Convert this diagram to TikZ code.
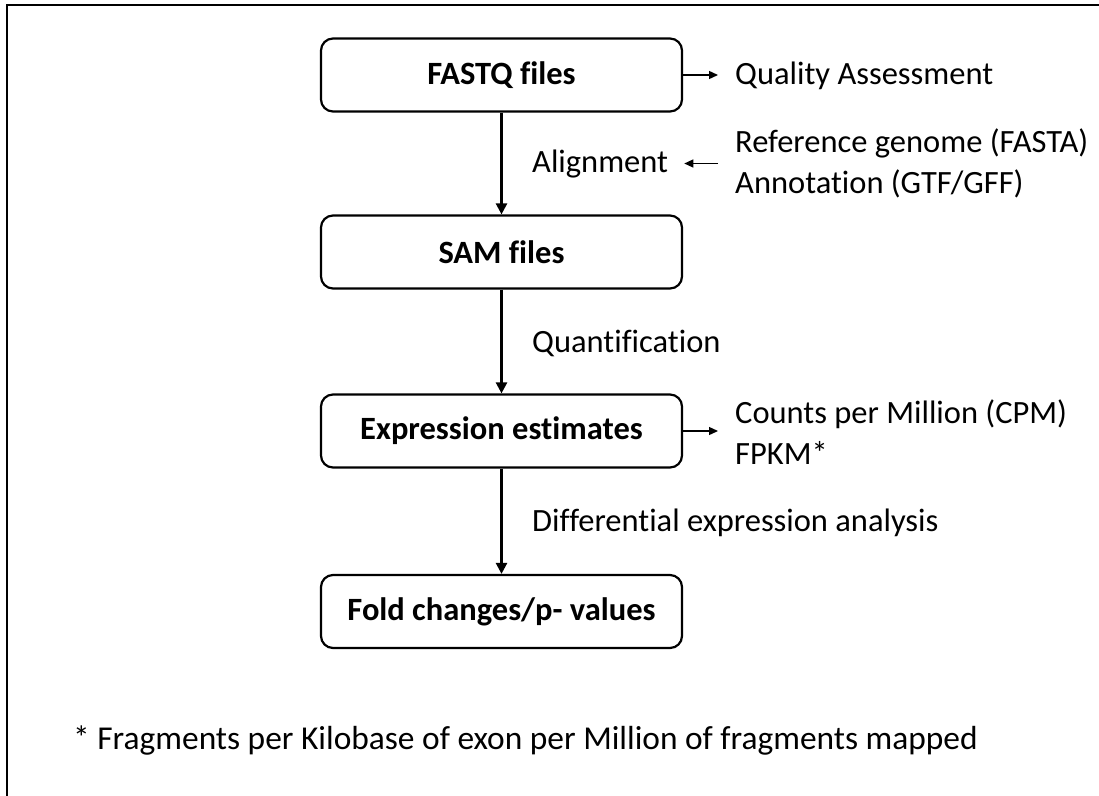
\documentclass[tikz,border=0pt]{standalone}
\usepackage{fontspec}
\setmainfont{Carlito}[Ligatures=NoCommon]
\usetikzlibrary{arrows.meta}
\begin{document}
\begin{tikzpicture}[x=1pt,y=-1pt,
  stage/.style={draw, line width=2.2pt, rounded corners=12pt,
    minimum width=361pt, minimum height=73pt, inner sep=0pt,
    font=\fontsize{32.5}{38}\selectfont\bfseries},
  lbl/.style={anchor=west, inner sep=0pt, align=left,
    font=\fontsize{32.5}{40.5}\selectfont},
  flow/.style={line width=2.4pt, -{Triangle[length=11pt,width=11pt]}},
  side/.style={line width=1.3pt, -{Triangle[length=9pt,width=8pt]}}]
\useasboundingbox (0,0) rectangle (1099,795);
% outer frame
\draw[line width=2.8pt] (7,796) -- (7,5) -- (1100,5);

% pipeline stages
\node[stage] (fastq) at (501.5,75)  {FASTQ files};
\node[stage] (sam)   at (501.5,252) {SAM files};
\node[stage] (expr)  at (501.5,431) {Expression estimates};
\node[stage] (fold)  at (501.5,611.5) {Fold changes/p- values};

% step labels
\node[lbl] (align) at (532,164) {Alignment};
\node[lbl] (quant) at (532,343) {Quantification};
\node[lbl] (diff)  at (532,523) {Differential expression analysis};

% side inputs and outputs
\node[lbl] (qa)   at (735,76)    {Quality Assessment};
\node[lbl] (refs) at (735,163.5) {Reference genome (FASTA)\\Annotation (GTF/GFF)};
\node[lbl] (cpm)  at (735,432)   {Counts per Million (CPM)\\FPKM*};

% footnote
\node[lbl, font=\fontsize{33.4}{40}\selectfont] (note) at (73,741)
  {* Fragments per Kilobase of exon per Million of fragments mapped};

% main flow
\draw[flow] (fastq) -- (sam);
\draw[flow] (sam) -- (expr);
\draw[flow] (expr) -- (fold);

% side arrows
\draw[side, shorten >=17pt] (fastq.east) -- (fastq.east -| qa.west);
\draw[side, shorten <=17pt, shorten >=16pt] (refs.west) -- (refs.west -| align.east);
\draw[side, shorten >=17pt] (expr.east) -- (expr.east -| cpm.west);
\end{tikzpicture}
\end{document}
